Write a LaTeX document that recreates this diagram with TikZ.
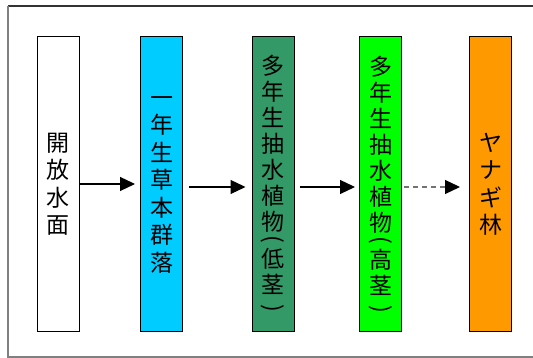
\documentclass[tikz,border=0pt]{standalone}
\usepackage{fontspec}
\newfontfamily\cjk{Noto Sans CJK JP}
\usetikzlibrary{arrows.meta}
\definecolor{cyanbox}{RGB}{0,204,255}
\definecolor{dgreen}{RGB}{51,153,102}
\definecolor{lgreen}{RGB}{0,255,0}
\definecolor{orangebox}{RGB}{255,153,0}
\newcommand{\vopen}{\rotatebox{-90}{(}}
\newcommand{\vclose}{\rotatebox{-90}{)}}
\tikzset{
  stage/.style={draw=black, line width=1pt, minimum width=42pt, minimum height=295pt, inner sep=0pt,
    font=\cjk\fontsize{23}{27.5}\selectfont, align=center, text width=30pt},
  tall/.style={font=\cjk\fontsize{23}{26}\selectfont},
  flow/.style={line width=1.2pt, -{Triangle[length=15pt,width=14pt]}},
  dflow/.style={line width=1.2pt, draw=black!55, dash pattern=on 5pt off 4pt, -{Triangle[length=15pt,width=14pt,fill=black,color=black]}}
}
\begin{document}
\begin{tikzpicture}[x=1pt,y=1pt]
\useasboundingbox (0,0) rectangle (533,358);
\draw[line width=1.2pt, draw=black!80] (8,352) -- (540,352);
\draw[line width=1.2pt, draw=black!50] (8,352) -- (8,1) -- (540,1);
\node[stage, fill=white] (a) at (58,173.5) {開\\放\\水\\面};
\node[stage, fill=cyanbox] (b) at (161.5,173.5) {一\\年\\生\\草\\本\\群\\落};
\node[stage, tall, fill=dgreen] (c) at (273,174) {多\\年\\生\\抽\\水\\植\\物\\[-21pt]\vopen\\[4pt]低\\茎\\[-15pt]\vclose};
\node[stage, tall, fill=lgreen] (d) at (380.5,173.5) {多\\年\\生\\抽\\水\\植\\物\\[-21pt]\vopen\\[4pt]高\\茎\\[-15pt]\vclose};
\node[stage, fill=orangebox] (e) at (490.5,173.5) {ヤ\\ナ\\ギ\\林};
\draw[flow] (a.east |- 0,174) -- ([xshift=-5pt]b.west |- 0,174);
\draw[flow] ([xshift=6pt]b.east |- 0,171) -- ([xshift=-6pt]c.west |- 0,171);
\draw[flow] ([xshift=5pt]c.east |- 0,171) -- ([xshift=-4pt]d.west |- 0,171);
\draw[dflow] ([xshift=2pt]d.east |- 0,171) -- ([xshift=-9pt]e.west |- 0,171);
\end{tikzpicture}
\end{document}
